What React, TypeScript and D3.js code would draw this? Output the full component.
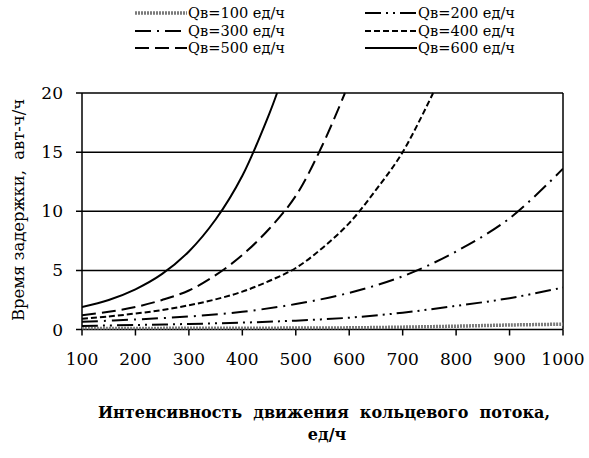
import React from 'react';
import * as d3 from 'd3';

// ---- data ----
const xTicks = [100, 200, 300, 400, 500, 600, 700, 800, 900, 1000];
const yTicks = [0, 5, 10, 15, 20];

const q100X = [100, 200, 300, 400, 500, 600, 700, 800, 900, 1000];
const q100Y = [0.08, 0.09, 0.1, 0.11, 0.12, 0.14, 0.2, 0.28, 0.38, 0.45];

const q200X = [100, 200, 300, 400, 500, 600, 700, 800, 900, 1000];
const q200Y = [0.3, 0.38, 0.47, 0.58, 0.75, 1.0, 1.42, 2.0, 2.65, 3.55];

const q300X = [100, 200, 300, 400, 500, 600, 700, 800, 900, 1000];
const q300Y = [0.65, 0.85, 1.1, 1.5, 2.15, 3.1, 4.5, 6.6, 9.4, 13.6];

const q400X = [100, 150, 200, 250, 300, 350, 400, 450, 500, 550, 600, 650, 700, 757];
const q400Y = [0.9, 1.1, 1.35, 1.65, 2.05, 2.55, 3.2, 4.1, 5.2, 6.9, 9.0, 11.8, 15.0, 20];

const q500X = [100, 150, 200, 250, 300, 350, 400, 450, 500, 550, 592];
const q500Y = [1.2, 1.5, 1.9, 2.5, 3.3, 4.6, 6.3, 8.5, 11.3, 15.6, 20];

const q600X = [100, 150, 200, 250, 300, 350, 400, 450, 465];
const q600Y = [1.9, 2.5, 3.4, 4.7, 6.6, 9.3, 13.0, 18.2, 20];

const seriesNames = ['Qв=100 ед/ч', 'Qв=200 ед/ч', 'Qв=300 ед/ч', 'Qв=400 ед/ч', 'Qв=500 ед/ч', 'Qв=600 ед/ч'];

const xTitle = 'Интенсивность  движения  кольцевого  потока,';
const xTitle2 = 'ед/ч';
const yTitle = 'Время задержки,  авт-ч/ч';

// ---- styles ----
const styles = [
  { stroke: '#7a7a7a', width: 3.5, dash: '2 1' },
  { stroke: '#000', width: 2, dash: '16 5 2 5 2 5' },
  { stroke: '#000', width: 2, dash: '16 6 2 6' },
  { stroke: '#000', width: 2, dash: '6 3' },
  { stroke: '#000', width: 2, dash: '14 6' },
  { stroke: '#000', width: 2, dash: '' },
];

const W = 589;
const H = 458;
const L = 82, R = 563, T = 93, B = 329.5;

export default function App() {
  const x = d3.scaleLinear().domain([100, 1000]).range([L, R]);
  const y = d3.scaleLinear().domain([0, 20]).range([B, T]);

  const seriesData = [
    [q100X, q100Y], [q200X, q200Y], [q300X, q300Y],
    [q400X, q400Y], [q500X, q500Y], [q600X, q600Y],
  ];
  const line = d3.line<[number, number]>()
    .x(d => x(d[0]))
    .y(d => y(d[1]))
    .curve(d3.curveCatmullRom.alpha(0.5));

  const legendRows = [13, 31, 48];
  const legendCols = [{ x0: 135, x1: 187 }, { x0: 365, x1: 417 }];

  const font = '"DejaVu Serif", serif';

  return (
    <svg width={W} height={H} style={{ position: 'absolute', left: 0, top: 0, background: '#fff' }}>
      <defs>
        <clipPath id="plot">
          <rect x={L} y={T - 1} width={R - L} height={B - T + 1} />
        </clipPath>
      </defs>
      <rect x={0} y={0} width={W} height={H} fill="#fff" />

      {yTicks.map(t => (
        <line key={'g' + t} x1={L - 6} x2={R} y1={y(t)} y2={y(t)} stroke="#000" strokeWidth={1.5} />
      ))}
      <line x1={L} x2={L} y1={T} y2={B} stroke="#000" strokeWidth={1.5} />
      <line x1={R} x2={R} y1={T} y2={B} stroke="#000" strokeWidth={1.5} />
      {xTicks.map(t => (
        <line key={'xt' + t} x1={x(t)} x2={x(t)} y1={B} y2={B + 6} stroke="#000" strokeWidth={1.5} />
      ))}

      <g clipPath="url(#plot)">
        {seriesData.map((s, i) => {
          const pts = s[0].map((v, j) => [v, s[1][j]] as [number, number]);
          return (
            <path key={'s' + i} d={line(pts) || ''} fill="none" stroke={styles[i].stroke}
              strokeWidth={styles[i].width} strokeDasharray={styles[i].dash} />
          );
        })}
      </g>

      {xTicks.map(t => (
        <text key={'xl' + t} x={x(t)} y={365} textAnchor="middle" fontFamily={font} fontSize={17}>{t}</text>
      ))}
      {yTicks.map(t => (
        <text key={'yl' + t} x={63} y={y(t) + 6} textAnchor="end" fontFamily={font} fontSize={17}>{t}</text>
      ))}

      <text x={324} y={418} textAnchor="middle" fontFamily={font} fontSize={16} fontWeight="bold"
        style={{ whiteSpace: 'pre' }} textLength={452} lengthAdjust="spacingAndGlyphs">{xTitle}</text>
      <text x={327} y={440} textAnchor="middle" fontFamily={font} fontSize={16} fontWeight="bold">{xTitle2}</text>
      <text transform={`translate(24, ${210}) rotate(-90)`} textAnchor="middle" fontFamily={font} fontSize={16}
        style={{ whiteSpace: 'pre' }} textLength={222} lengthAdjust="spacingAndGlyphs">{yTitle}</text>

      {seriesNames.map((name, i) => {
        const col = legendCols[i % 2];
        const ry = legendRows[Math.floor(i / 2)];
        return (
          <g key={'lg' + i}>
            <line x1={col.x0} x2={col.x1} y1={ry} y2={ry} stroke={styles[i].stroke}
              strokeWidth={styles[i].width} strokeDasharray={styles[i].dash} />
            <text x={col.x1 + 1} y={ry + 5} fontFamily={font} fontSize={14}
              textLength={97} lengthAdjust="spacingAndGlyphs">{name}</text>
          </g>
        );
      })}
    </svg>
  );
}
